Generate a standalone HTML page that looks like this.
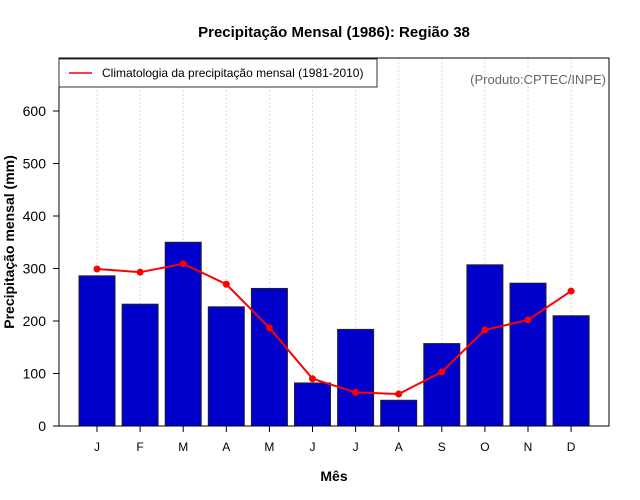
<!DOCTYPE html>
<html><head><meta charset="utf-8"><style>
body{margin:0;background:#fff}
svg{display:block;font-family:"Liberation Sans",sans-serif}
</style></head><body>
<svg id="c" width="640" height="500">
<text x="334" y="37" text-anchor="middle" font-size="15" font-weight="bold">Precipitação Mensal (1986): Região 38</text>
<text x="334" y="481" text-anchor="middle" font-size="14" font-weight="bold">Mês</text>
<text transform="translate(14,242) rotate(-90)" text-anchor="middle" font-size="14" font-weight="bold">Precipitação mensal (mm)</text>
<g id="grid"></g><g id="bars"></g><g id="line"></g><g id="axes"></g>
<rect x="59" y="58" width="550" height="368" fill="none" stroke="#000"/>
<g>
<rect x="59" y="59" width="318" height="28" fill="#fff" stroke="#333"/>
<line x1="69" y1="73" x2="92" y2="73" stroke="red" stroke-width="1.5"/>
<text x="102" y="77" font-size="12">Climatologia da precipitação mensal (1981-2010)</text>
</g>
<text x="606" y="84" text-anchor="end" font-size="13" fill="#666">(Produto:CPTEC/INPE)</text>
</svg>
<script>
const months=["J","F","M","A","M","J","J","A","S","O","N","D"];
const precip=[286,232,350,227,262,82,184,49,157,307,272,210];
const clim=[299,293,309,270,187,90,64,61,103,183,202,257];
const yTicks=[0,100,200,300,400,500,600];
const ns="http://www.w3.org/2000/svg";
const X=i=>97+i*43.1, Y=v=>426-v*0.525;
function mk(p,t,a){const e=document.createElementNS(ns,t);for(const k in a)e.setAttribute(k,a[k]);document.getElementById(p).appendChild(e);return e;}
months.forEach((m,i)=>{
 const g=mk("grid","line",{x1:X(i),x2:X(i),y1:58,y2:426,stroke:"#ddd","stroke-dasharray":"2,2"});
 
 
 const b=mk("bars","rect",{x:X(i)-18,y:Y(precip[i]),width:36,height:precip[i]*0.525,fill:"#0000CD",stroke:"#222","stroke-width":1});
 
 
 const t=mk("axes","line",{x1:X(i),x2:X(i),y1:426,y2:432,stroke:"#000"});
 
 
 const l=mk("axes","text",{x:X(i),y:451,"text-anchor":"middle","font-size":12});
 l.textContent=m;
 
 
});
const pl=mk("line","polyline",{points:clim.map((v,i)=>X(i)+","+Y(v)).join(" "),fill:"none",stroke:"red","stroke-width":2});


clim.forEach((v,i)=>{
 const c=mk("line","circle",{cx:X(i),cy:Y(v),r:3.5,fill:"red"});
 
 
});
yTicks.forEach(v=>{
 const t=mk("axes","line",{x1:53,x2:59,y1:Y(v),y2:Y(v),stroke:"#000"});
 
 
 const l=mk("axes","text",{x:46,y:Y(v)+5,"text-anchor":"end","font-size":14});
 l.textContent=v;
 
 
});
</script>
</body></html>
